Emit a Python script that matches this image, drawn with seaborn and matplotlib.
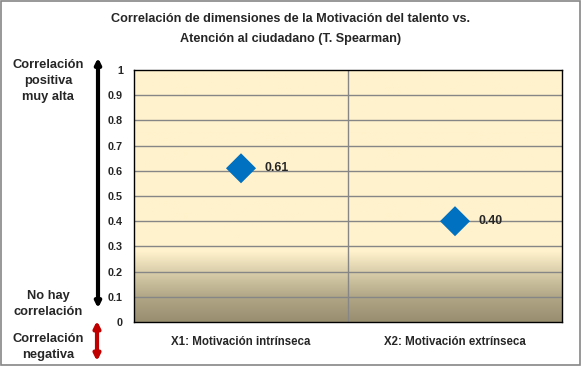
import numpy as np
import pandas as pd
import matplotlib
matplotlib.use('Agg')
import matplotlib.pyplot as plt
import seaborn as sns
from matplotlib.patches import Rectangle, FancyArrowPatch

categories = ['X1: Motivación intrínseca', 'X2: Motivación extrínseca']
rho = [0.61, 0.40]
rho_labels = ['0.61', '0.40']
y_ticks = [0, 0.1, 0.2, 0.3, 0.4, 0.5, 0.6, 0.7, 0.8, 0.9, 1]
y_tick_labels = ['0', '0.1', '0.2', '0.3', '0.4', '0.5', '0.6', '0.7', '0.8', '0.9', '1']

df = pd.DataFrame({'dim': categories, 'rho': rho})

sns.set_style('white')
plt.rcParams['font.family'] = ['Liberation Sans', 'DejaVu Sans']
plt.rcParams['font.weight'] = 'bold'

fig = plt.figure(figsize=(5.81, 3.66), dpi=100)
ax = fig.add_axes([134 / 581, 1 - 322 / 366, 428 / 581, 252 / 366])

# background gradient (light yellow -> brownish grey near 0)
yy = np.linspace(0, 1, 256)
t = np.interp(yy, [0, 0.1, 0.2, 0.28, 1], [1, 0.75, 0.35, 0, 0])
top = np.array([255, 242, 204]) / 255
bot = np.array([152, 143, 112]) / 255
grad = (top[None, :] * (1 - t[:, None]) + bot[None, :] * t[:, None])[::-1]
grad = np.repeat(grad[:, None, :], 4, axis=1)
ax.imshow(grad, extent=[0, 1, 0, 1], transform=ax.transAxes,
          aspect='auto', zorder=0, interpolation='bilinear')

sns.scatterplot(data=df, x='dim', y='rho', marker='D', s=234,
                color='#0070C0', edgecolor='none', ax=ax, zorder=3)
for i, (v, lab) in enumerate(zip(rho, rho_labels)):
    ax.annotate(lab, (i, v), xytext=(17, 0), textcoords='offset points',
                va='center', ha='left', fontsize=8.8, fontweight='bold')

ax.set_xlim(-0.5, 1.5)
ax.set_ylim(0, 1)
ax.set_yticks(y_ticks)
ax.set_yticklabels(y_tick_labels)
for y in y_ticks[1:-1]:
    ax.axhline(y, color='#868686', lw=1, zorder=1)
ax.axvline(0.5, color='#868686', lw=1, zorder=1)
ax.tick_params(axis='y', length=0, pad=8, labelsize=7.8)
ax.tick_params(axis='x', length=0, pad=10, labelsize=8.3)
for lab in ax.get_xticklabels() + ax.get_yticklabels():
    lab.set_fontweight('bold')
ax.set_xlabel('')
ax.set_ylabel('')
for s in ax.spines.values():
    s.set_color('black')
    s.set_linewidth(1)

fig.text(0.5, 1 - 19 / 366,
         'Correlación de dimensiones de la Motivación del talento vs.',
         ha='center', va='center', fontsize=9.05, fontweight='bold')
fig.text(0.5, 1 - 39 / 366, 'Atención al ciudadano (T. Spearman)',
         ha='center', va='center', fontsize=9.05, fontweight='bold')

fig.text(48 / 581, 1 - 81 / 366, 'Correlación\npositiva\nmuy alta',
         ha='center', va='center', fontsize=9.3, fontweight='bold',
         linespacing=1.45)
fig.text(48 / 581, 1 - 304 / 366, 'No hay\ncorrelación',
         ha='center', va='center', fontsize=9.3, fontweight='bold',
         linespacing=1.45)
fig.text(48 / 581, 1 - 347 / 366, 'Correlación\nnegativa',
         ha='center', va='center', fontsize=9.3, fontweight='bold',
         linespacing=1.45)

fig.patches.append(FancyArrowPatch((98 / 581, 1 - 55 / 366), (98 / 581, 1 - 311 / 366),
                                   transform=fig.transFigure, arrowstyle='<|-|>',
                                   mutation_scale=8, lw=3, color='black'))
fig.patches.append(FancyArrowPatch((97 / 581, 1 - 318 / 366), (97 / 581, 1 - 364 / 366),
                                   transform=fig.transFigure, arrowstyle='<|-|>',
                                   mutation_scale=9, lw=3, color='#C00000'))

fig.patches.append(Rectangle((0.001, 0.002), 0.997, 0.995, transform=fig.transFigure,
                             fill=False, edgecolor='#868686', lw=1.2))

fig.savefig('out.png', dpi=100)
